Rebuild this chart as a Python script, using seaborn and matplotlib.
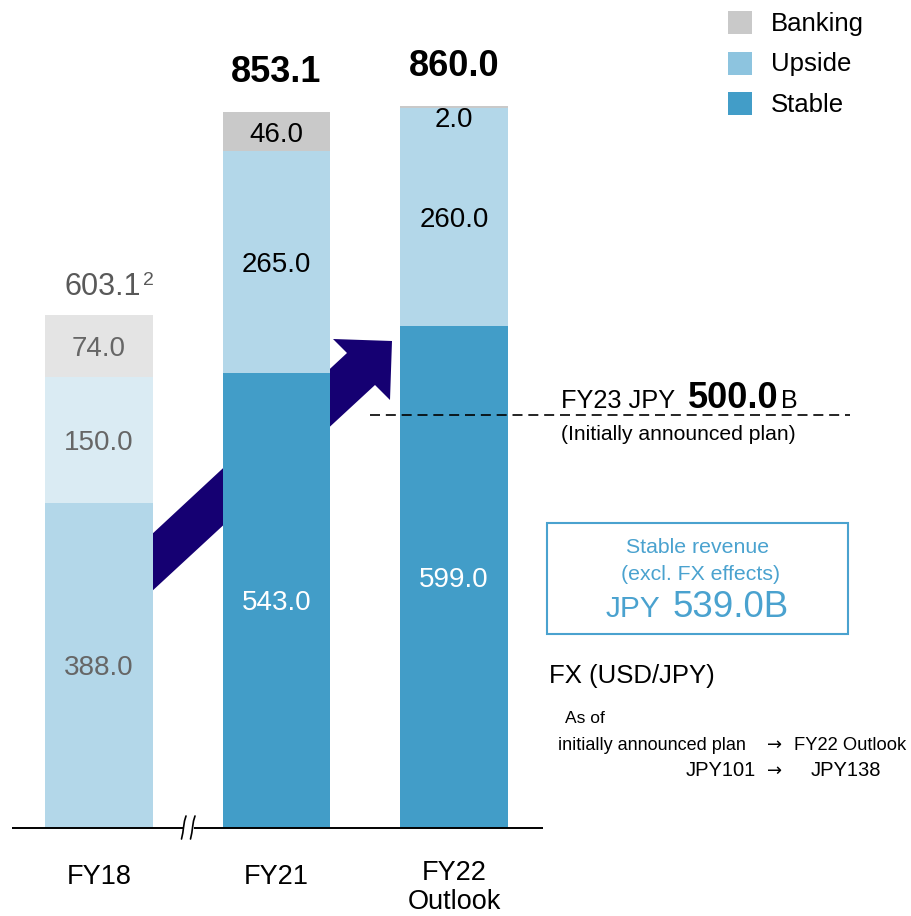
import numpy as np
import pandas as pd
import seaborn as sns
import matplotlib.pyplot as plt
from matplotlib.patches import Polygon, Rectangle
from matplotlib.transforms import Affine2D, blended_transform_factory

# ---------------- data ----------------
categories = ["FY18", "FY21", "FY22\nOutlook"]
stable = [388.0, 543.0, 599.0]
upside = [150.0, 265.0, 260.0]
banking = [74.0, 46.0, 2.0]
total_labels = ["603.1", "853.1", "860.0"]
legend_labels = ["Banking", "Upside", "Stable"]

# colours per bar (FY18 shown faded)
stable_colors = ["#B3D7E9", "#429DC8", "#429DC8"]
upside_colors = ["#DAEBF3", "#B3D7E9", "#B3D7E9"]
banking_colors = ["#E4E4E4", "#C9C9C9", "#C9C9C9"]
legend_colors = ["#C9C9C9", "#8DC4DF", "#429DC8"]
BOX_BLUE = "#4AA2CF"

sns.set_theme(style="white")
plt.rcParams["font.family"] = ["Liberation Sans", "DejaVu Sans"]

W, H = 911, 916
fig = plt.figure(figsize=(W / 100, H / 100), dpi=100)
ax = fig.add_axes([0, 0, 1, 1])
PIX = Affine2D().scale(1 / W, -1 / H).translate(0, 1) + fig.transFigure

df = pd.DataFrame({"cat": categories, "stable": stable,
                   "upside": upside, "banking": banking})
df["su"] = df["stable"] + df["upside"]
df["total"] = df["su"] + df["banking"]

layers = [("total", banking_colors, 2), ("su", upside_colors, 3),
          ("stable", stable_colors, 4)]
for col, cols, z in layers:
    sns.barplot(data=df, x="cat", y=col, hue="cat",
                palette=dict(zip(categories, cols)), width=0.608,
                saturation=1, legend=False, ax=ax, linewidth=0, zorder=z)

X0, XS = 99, 177.5
Y0, YS = 828, 0.838
ax.set_xlim(-X0 / XS, (W - X0) / XS)
ax.set_ylim(-(H - Y0) / YS, Y0 / YS)
ax.axis("off")

# ---------------- segment labels ----------------
for i in range(len(categories)):
    segs = [(0, stable[i], "stable"), (stable[i], upside[i], "upside"),
            (stable[i] + upside[i], banking[i], "banking")]
    for bottom, val, kind in segs:
        if i == 0:
            c = "#666666"
        else:
            c = "white" if kind == "stable" else "black"
        if val < 10:
            y = bottom + val - 13
        else:
            y = bottom + val / 2
        ax.text(i, y, f"{val:.1f}", ha="center", va="center_baseline",
                fontsize=20, color=c, zorder=10)

# ---------------- totals ----------------
for i in (1, 2):
    ax.annotate(total_labels[i], xy=(i, df["total"][i]), xytext=(0, 30),
                textcoords="offset pixels", ha="center", va="baseline",
                fontsize=26, fontweight="bold", color="black", zorder=10)
ax.annotate(total_labels[0], xy=(0, df["total"][0]), xytext=(42, 20),
            textcoords="offset pixels", ha="right", va="baseline",
            fontsize=22, color="#595959", zorder=10)
ax.annotate("2", xy=(0, df["total"][0]), xytext=(44, 30),
            textcoords="offset pixels", ha="left", va="baseline",
            fontsize=14, color="#595959", zorder=10)

# ---------------- arrow ----------------
arrow_pts = [(150, 536), (347, 353), (333, 339), (392, 341),
             (390, 400), (375, 385), (150, 593)]
ax.add_patch(Polygon(arrow_pts, closed=True, transform=PIX,
                     facecolor="#150072", edgecolor="none", zorder=1,
                     clip_on=False))

# ---------------- baseline with break ----------------
ax.plot([12, 543], [828, 828], transform=PIX, color="black", lw=1.4,
        zorder=6, clip_on=False, solid_capstyle="butt")
ax.plot([185, 191.5], [828, 828], transform=PIX, color="white", lw=3,
        zorder=7, clip_on=False)
for dx in (0, 9):
    xs = np.array([186, 184.5, 183.6, 182.8, 181.5]) + dx
    ys = np.array([816, 821, 827, 833, 839])
    ax.plot(xs, ys, transform=PIX, color="black", lw=1.2, zorder=8,
            clip_on=False)

# ---------------- category labels ----------------
bt = blended_transform_factory(ax.transData, PIX)
for i, lab in enumerate(categories):
    yb = 884 if "\n" not in lab else 909
    ax.text(i, yb, lab, transform=bt, ha="center", va="baseline",
            fontsize=19.5, color="black", linespacing=1.17)

# ---------------- legend ----------------
for k, (lab, c) in enumerate(zip(legend_labels, legend_colors)):
    top = 11 + k * 40.5
    ax.add_patch(Rectangle((728, top + 23), 24, -23, transform=PIX,
                           facecolor=c, edgecolor="none", clip_on=False))
    ax.text(771, top + 20, lab, transform=PIX, ha="left", va="baseline",
            fontsize=18.5, color="black")

# ---------------- plan line ----------------
ax.plot([370, 850], [415, 415], transform=PIX, color="black", lw=1.2,
        dashes=(6, 3.5), zorder=5, clip_on=False)
ax.text(561, 408, "FY23 JPY", transform=PIX, ha="left", va="baseline",
        fontsize=18.3, color="black")
ax.text(688, 408, "500.0", transform=PIX, ha="left", va="baseline",
        fontsize=26, fontweight="bold", color="black")
ax.text(781, 408, "B", transform=PIX, ha="left", va="baseline",
        fontsize=18, color="black")
ax.text(561, 440, "(Initially announced plan)", transform=PIX, ha="left",
        va="baseline", fontsize=15.2, color="black")

# ---------------- stable revenue box ----------------
ax.add_patch(Rectangle((547, 634), 301, -111, transform=PIX,
                       facecolor="white", edgecolor=BOX_BLUE, lw=1.5,
                       clip_on=False, zorder=5))
ax.text(698, 553, "Stable revenue", transform=PIX, ha="center",
        va="baseline", fontsize=15.3, color=BOX_BLUE, zorder=6)
ax.text(701, 580, "(excl. FX effects)", transform=PIX, ha="center",
        va="baseline", fontsize=15.3, color=BOX_BLUE, zorder=6)
ax.text(606, 617, "JPY", transform=PIX, ha="left", va="baseline",
        fontsize=21.5, color=BOX_BLUE, zorder=6)
ax.text(673, 617, "539.0B", transform=PIX, ha="left", va="baseline",
        fontsize=26.5, color=BOX_BLUE, zorder=6)

# ---------------- FX notes ----------------
ARROW_FONT = ["DejaVu Sans"]
ax.text(549, 683, "FX (USD/JPY)", transform=PIX, ha="left", va="baseline",
        fontsize=18.5, color="black")
ax.text(565, 723, "As of", transform=PIX, ha="left", va="baseline",
        fontsize=12.5, color="black")
ax.text(558, 750, "initially announced plan", transform=PIX, ha="left",
        va="baseline", fontsize=13, color="black")
ax.text(775, 750, "\u2192", transform=PIX, ha="center", va="baseline",
        fontsize=13, color="black", family=ARROW_FONT)
ax.text(794, 750, "FY22 Outlook", transform=PIX, ha="left",
        va="baseline", fontsize=13.2, color="black")
ax.text(686, 776, "JPY101", transform=PIX, ha="left", va="baseline",
        fontsize=14.5, color="black")
ax.text(775, 776, "\u2192", transform=PIX, ha="center", va="baseline",
        fontsize=13, color="black", family=ARROW_FONT)
ax.text(881, 776, "JPY138", transform=PIX, ha="right", va="baseline",
        fontsize=14.5, color="black")

fig.savefig("out.png", dpi=100)
